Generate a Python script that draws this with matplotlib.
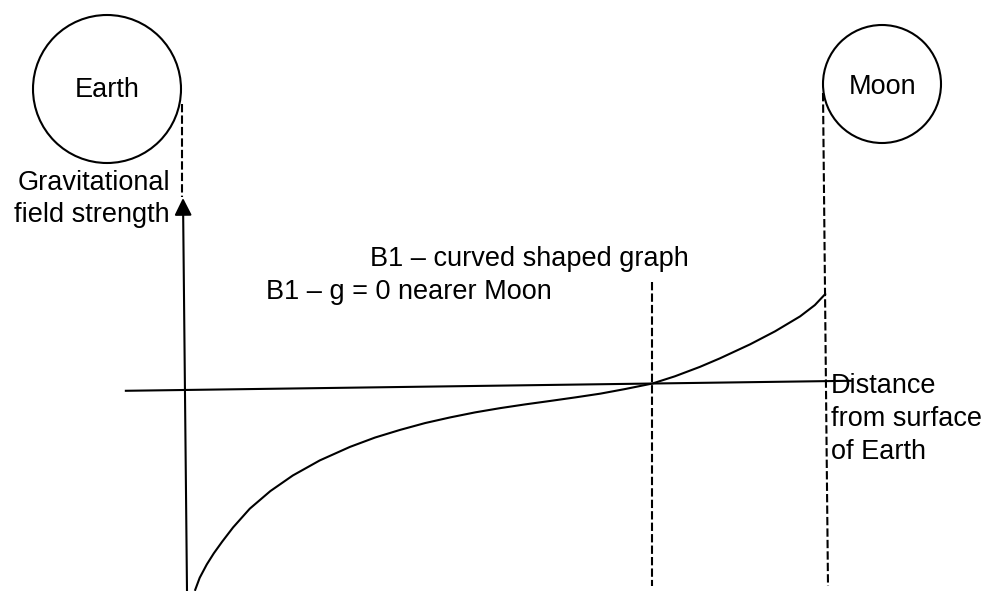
import matplotlib
matplotlib.use("Agg")
import matplotlib.pyplot as plt
from matplotlib.patches import Circle

plt.rcParams['font.family'] = ['Liberation Sans', 'DejaVu Sans']

# distance from Earth's surface (0 = Earth surface, 1 = Moon surface)
distance = [0.019, 0.026, 0.037, 0.048, 0.061, 0.078, 0.104, 0.136, 0.171,
            0.213, 0.260, 0.299, 0.338, 0.377, 0.416, 0.455, 0.494, 0.533,
            0.572, 0.611, 0.650, 0.688, 0.731, 0.766, 0.805, 0.836, 0.883,
            0.922, 0.961, 0.984, 1.0]
# gravitational field strength (arbitrary units, towards the Moon positive)
g = [-2.000, -1.880, -1.748, -1.637, -1.522, -1.381, -1.196, -1.023, -0.870,
     -0.723, -0.592, -0.502, -0.429, -0.364, -0.311, -0.264, -0.225, -0.191,
     -0.160, -0.128, -0.094, -0.052, 0.000, 0.069, 0.160, 0.242, 0.378,
     0.505, 0.651, 0.762, 0.870]

g_zero_distance = 0.731

earth_label = "Earth"
moon_label = "Moon"
y_label = ["Gravitational", "field strength"]
x_label = ["Distance", "from surface", "of Earth"]
marks = ["B1 \u2013 curved shaped graph", "B1 \u2013 g = 0 nearer Moon"]

fig = plt.figure(figsize=(9.94, 5.91), dpi=100)

# pixel-space layer for the bodies, labels and construction lines
ax = fig.add_axes([0, 0, 1, 1])
ax.set_xlim(0, 994)
ax.set_ylim(591, 0)
ax.axis('off')

# graph layer in physical units; the hand-drawn distance axis dips a little
# towards the left, so the graph layer is rotated to follow it
gax = fig.add_axes([0, 0, 1, 1], facecolor='none')
gax.set_xlim(-0.285, 1.263)
gax.set_ylim(-2.05, 3.86)
gax.axis('off')
tilt = -0.0138 * 642 / 100  # g units per unit distance


def on_axis(d, gv):
    return [gv_i - tilt * d_i for d_i, gv_i in zip(d, gv)]


lw = 1.5
fs = 19.5

# Earth and Moon
ax.add_patch(Circle((107, 89), 74, fill=False, lw=lw, color='black'))
ax.add_patch(Circle((882, 84), 59, fill=False, lw=lw, color='black'))
ax.text(107, 97, earth_label, ha='center', va='baseline', fontsize=fs)
ax.text(883, 94, moon_label, ha='center', va='baseline', fontsize=fs)

# dashed guides down from the surfaces and at g = 0
dash = (0, (4, 1.5))
ax.plot([182, 182], [104, 197], color='black', lw=lw, ls=dash)
ax.plot([823, 828], [93, 586], color='black', lw=lw, ls=dash)
gx = 183 + 642 * g_zero_distance
ax.plot([gx, gx], [282, 586], color='black', lw=lw, ls=dash)

# axes
ax.annotate('', xy=(183, 198), xytext=(187, 591),
            arrowprops=dict(arrowstyle='-|>', mutation_scale=26, lw=lw,
                            color='black', shrinkA=0, shrinkB=0))
axis_d = [-0.089, 1.04]
gax.plot(axis_d, on_axis(axis_d, [-0.04, -0.04]), color='black', lw=lw)

# field strength curve
gax.plot(distance, on_axis(distance, [v - 0.04 for v in g]),
         color='black', lw=lw, solid_joinstyle='round')

# axis labels
ax.text(170, 190, y_label[0], ha='right', va='baseline', fontsize=fs)
ax.text(170, 222, y_label[1], ha='right', va='baseline', fontsize=fs)
for i, line in enumerate(x_label):
    ax.text(831, 393 + 33 * i, line, ha='left', va='baseline', fontsize=fs)

# marking notes
ax.text(370, 266, marks[0], ha='left', va='baseline', fontsize=fs)
ax.text(266, 299, marks[1], ha='left', va='baseline', fontsize=fs)

fig.savefig("out.png", dpi=100)
